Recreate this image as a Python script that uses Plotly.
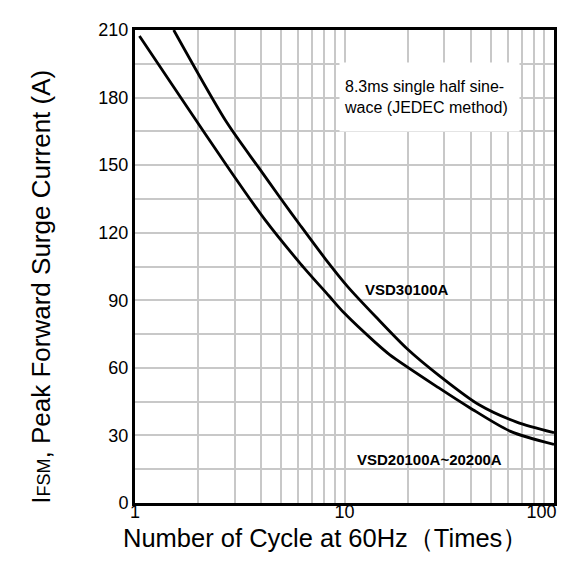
import plotly.graph_objects as go

# Data (cycles at 60 Hz, peak forward surge current in A)
cycles_20100 = [1.05, 1.76, 2.75, 4.16, 6.17, 8.42, 10.0, 14.1, 16.4, 28.1, 39.6, 62.0, 100]
ifsm_20100 = [207.3, 176.3, 149.6, 125.9, 106.2, 92.0, 84.2, 71.1, 65.9, 51.2, 42.3, 31.8, 26.0]

cycles_30100 = [1.53, 2.74, 3.88, 4.96, 6.17, 8.13, 10.35, 14.1, 19.9, 28.1, 43.9, 66.4, 100]
ifsm_30100 = [210.0, 169.0, 149.1, 135.2, 123.1, 108.2, 96.1, 82.7, 68.5, 56.8, 43.6, 35.9, 31.2]

x_tickvals = [1, 2, 3, 4, 5, 6, 7, 8, 9, 10, 20, 30, 40, 50, 60, 70, 80, 90, 100]
x_ticktext = ["1", "", "", "", "", "", "", "", "", "10", "", "", "", "", "", "", "", "",
              "100\u00a0\u00a0\u00a0\u00a0\u00a0"]
y_tickvals = list(range(0, 211, 15))
y_ticktext = [str(v) if v % 30 == 0 else "" for v in y_tickvals]

FONT = "Arial, Liberation Sans, sans-serif"

fig = go.Figure()
fig.add_trace(go.Scatter(x=cycles_20100, y=ifsm_20100, mode="lines",
                         line=dict(color="black", width=2.8, shape="spline", smoothing=0.8),
                         name="VSD20100A~20200A"))
fig.add_trace(go.Scatter(x=cycles_30100, y=ifsm_30100, mode="lines",
                         line=dict(color="black", width=2.8, shape="spline", smoothing=0.8),
                         name="VSD30100A"))

fig.update_layout(
    width=586, height=562,
    margin=dict(l=127, r=13, t=22, b=67),
    paper_bgcolor="white", plot_bgcolor="white",
    showlegend=False,
    font=dict(family=FONT, color="black"),
)
fig.update_xaxes(type="log", range=[0, 2], tickvals=x_tickvals, ticktext=x_ticktext,
                 showgrid=True, gridcolor="#c8c8c8", gridwidth=1.6,
                 showline=True, linecolor="black", linewidth=3, mirror=True,
                 ticks="", tickfont=dict(size=18, family=FONT, color="black"),
                 ticklabelstandoff=-10, ticklabeloverflow="allow", zeroline=False)
fig.update_yaxes(range=[0, 210], tickvals=y_tickvals, ticktext=y_ticktext,
                 showgrid=True, gridcolor="#c8c8c8", gridwidth=1.6,
                 showline=True, linecolor="black", linewidth=3, mirror=True,
                 ticks="", tickfont=dict(size=18, family=FONT, color="black"),
                 zeroline=False)

fig.add_annotation(xref="paper", yref="paper", x=0.455, y=-0.074,
                   text="Number of Cycle at 60Hz（Times）", showarrow=False,
                   xanchor="center", yanchor="middle",
                   font=dict(size=25.5, family=FONT, color="black"))
fig.add_annotation(xref="paper", yref="paper", x=-0.225, y=0.4567,
                   text="I<span style='font-size:18px'>FSM</span>, Peak Forward Surge Current (A)",
                   textangle=-90, showarrow=False, xanchor="center", yanchor="middle",
                   font=dict(size=26, family=FONT, color="black"))
fig.add_annotation(xref="paper", yref="paper", x=0.703, y=0.858,
                   text="8.3ms single half sine-<br>wace (JEDEC method)", showarrow=False,
                   align="left", width=171, height=60, borderpad=4, bgcolor="white",
                   xanchor="center", yanchor="middle",
                   font=dict(size=16, family=FONT, color="black"))
fig.add_annotation(xref="paper", yref="paper", x=0.6496, y=0.4514,
                   text="<b>VSD30100A</b>", showarrow=False,
                   xanchor="center", yanchor="middle",
                   font=dict(size=15, family=FONT, color="black"))
fig.add_annotation(xref="paper", yref="paper", x=0.7018, y=0.092,
                   text="<b>VSD20100A~20200A</b>", showarrow=False,
                   xanchor="center", yanchor="middle",
                   font=dict(size=15, family=FONT, color="black"))

fig.write_html("out.html")
